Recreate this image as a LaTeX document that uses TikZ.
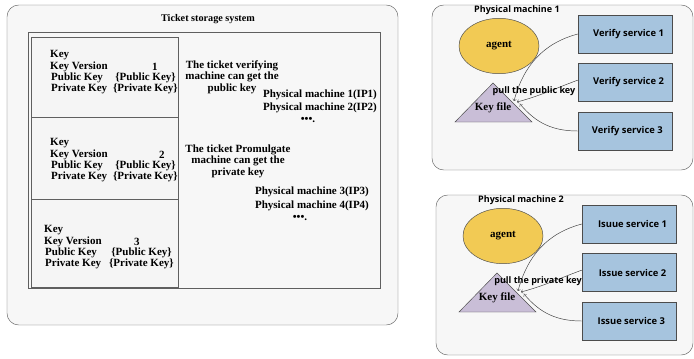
\documentclass[tikz,border=0pt]{standalone}
\usepackage{fontspec}
\setmainfont{Liberation Serif}
\newfontfamily\pmfont{Open Sans}
\usetikzlibrary{shapes.geometric}

\definecolor{agentfill}{RGB}{242,202,84}
\definecolor{keyfill}{RGB}{201,190,215}
\definecolor{svcfill}{RGB}{166,196,222}
\definecolor{framegray}{RGB}{95,95,95}

\tikzset{
	frame/.style = {draw=framegray, rounded corners=10pt, fill=black!3},
	keybox/.style = {draw=framegray, fill=black!4},
	txt/.style = {font=\bfseries\fontsize{9.4}{9.8}\selectfont, inner sep=0pt},
	pmlabel/.style = {font=\pmfont\bfseries\fontsize{7.7}{8}\selectfont, inner sep=0pt},
	svcbox/.style = {draw=black!70, fill=svcfill, minimum width=2.82cm, minimum height=1.14cm, font=\pmfont\bfseries\fontsize{8}{8}\selectfont},
	agent/.style = {ellipse, draw=black!70, fill=agentfill, minimum width=2.4cm, minimum height=1.66cm, font=\bfseries\fontsize{9.4}{10}\selectfont},
	keytri/.style = {draw=black!70, fill=keyfill},
	pull/.style = {->, black!75, thin}
}

\begin{document}
\begin{tikzpicture}[x=0.03cm, y=-0.03cm, >=to]
	\useasboundingbox (0,0) rectangle (694,358);
	% ticket storage system
	\draw [frame] (7,5) rectangle (398,325);
	\node [txt, font=\bfseries\fontsize{8.7}{9}\selectfont] (title) at (208,19) {Ticket storage system};
	\draw [keybox, fill=black!3] (28,32) rectangle (380,288);
	\foreach \i/\top/\bot in {1/37/117, 2/117/199, 3/199/287}
		\draw [keybox] (31,\top) rectangle (178,\bot);
	\foreach \i/\lx/\ky/\vx/\rx in {1/50/55/155/177, 2/50/143/162/177, 3/44/230/137/173} {
		\node [txt, anchor=west] (key\i) at (\lx,\ky) {Key};
		\node [txt, anchor=west] (ver\i) at (\lx,\ky+12) {Key Version};
		\node [txt] (num\i) at (\vx,\ky+12) {\i};
		\node [txt, anchor=west] (pub\i) at (\lx+1,\ky+23) {Public Key};
		\node [txt, anchor=east] (pubv\i) at (\rx-1,\ky+23) {\{Public Key\}};
		\node [txt, anchor=west] (pri\i) at (\lx+1,\ky+34) {Private Key};
		\node [txt, anchor=east] (priv\i) at (\rx+1,\ky+34) {\{Private Key\}};
	}
	\node [txt, align=center] (verinfo) at (232,77) {The ticket verifying\\machine can get the\\public key};
	\node [txt] (pm1ip) at (320,95) {Physical machine 1(IP1)};
	\node [txt] (pm2ip) at (320,108) {Physical machine 2(IP2)};
	\node [txt] (dotsa) at (308,120) {•••.};
	\node [txt, align=center] (proinfo) at (238,161) {The ticket Promulgate\\machine can get the\\private key};
	\node [txt] (pm3ip) at (312,192) {Physical machine 3(IP3)};
	\node [txt] (pm4ip) at (312,206) {Physical machine 4(IP4)};
	\node [txt] (dotsb) at (300,218) {•••.};
	% physical machines
	\foreach \p/\dx/\dy/\h/\sa/\sb/\sc/\kk in {1/0/0/165/Verify service 1/Verify service 2/Verify service 3/public, 2/4/190/160/Isuue service 1/Issue service 2/Issue service 3/private} {
		\begin{scope}[shift={(\dx,\dy)}]
			\draw [frame] (432,5) rectangle (693-\dx,5+\h);
			\node [pmlabel] (pm\p) at (517,10) {Physical machine \p};
			\node [agent] (ag\p) at (499,46) {agent};
			\draw [keytri] (493,83) -- (455,122) -- (532,122) -- cycle;
			\node [txt] (kf\p) at (493,108) {Key file};
			\node [svcbox] (sa\p) at (625,34) {\hspace*{6pt}\sa};
			\node [svcbox] (sb\p) at (625,82.5) {\hspace*{6pt}\sb};
			\node [svcbox] (sc\p) at (625,131) {\hspace*{4pt}\sc};
			\coordinate (ta\p) at (514,101);
			\coordinate (tb\p) at (517,102);
			\coordinate (tc\p) at (520,104);
			\draw [pull] (sa\p.west) to [out=195, in=75] (ta\p);
			\draw [pull] ([yshift=2pt]sb\p.west) to [out=200, in=15] (tb\p);
			\draw [pull] (sc\p.west) to [out=180, in=-50] (tc\p);
			\node [pmlabel] (pl\p) at (534,91) {pull the \kk\ key};
		\end{scope}
	}
\end{tikzpicture}
\end{document}
